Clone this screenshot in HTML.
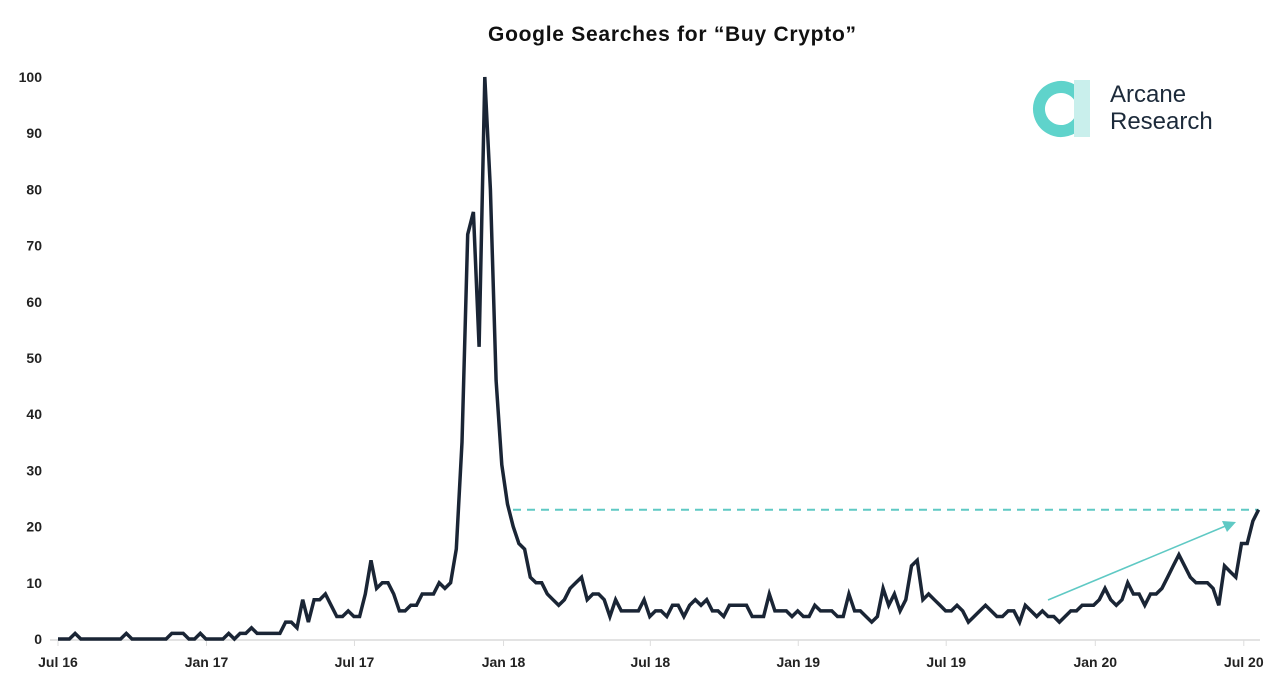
<!DOCTYPE html>
<html><head><meta charset="utf-8"><style>
body{margin:0;background:#fff;width:1280px;height:685px;overflow:hidden;font-family:"Liberation Sans",sans-serif}
</style></head><body>
<svg id="chart" width="1280" height="685" xmlns="http://www.w3.org/2000/svg">
<text x="672" y="41" text-anchor="middle" font-size="21" font-weight="bold" fill="#111" textLength="368">Google Searches for “Buy Crypto”</text>
<g>
<circle cx="1061" cy="109" r="22" fill="none" stroke="#5fd3cb" stroke-width="12" stroke-dasharray="118 20" transform="rotate(30 1061 109)"/>
<rect x="1074" y="80" width="16" height="57" fill="#c9efec"/>
<text x="1110" y="102" font-size="24" fill="#1c2a3a">Arcane</text>
<text x="1110" y="129" font-size="24" fill="#1c2a3a">Research</text>
</g>
<g id="axes"></g>
<g id="marks"></g>
</svg>
<script>
const yTicks=[0,10,20,30,40,50,60,70,80,90,100];
const xLabels=["Jul 16","Jan 17","Jul 17","Jan 18","Jul 18","Jan 19","Jul 19","Jan 20","Jul 20"];
const xLabelWeeks=[0,26.1,52.1,78.3,104.1,130.1,156.1,182.3,208.4];
const searches=[0,0,0,1,0,0,0,0,0,0,0,0,1,0,0,0,0,0,0,0,1,1,1,0,0,1,
0,0,0,0,1,0,1,1,2,1,1,1,1,1,3,3,2,7,3,7,7,8,6,4,4,5,
4,4,8,14,9,10,10,8,5,5,6,6,8,8,8,10,9,10,16,35,72,76,52,100,
80,46,31,24,20,17,16,11,10,10,8,7,6,7,9,10,11,7,8,8,7,4,7,5,5,5,5,7,4,
5,5,4,6,6,4,6,7,6,7,5,5,4,6,6,6,6,4,4,4,8,5,5,5,4,5,4,4,6,5,
5,5,4,4,8,5,5,4,3,4,9,6,8,5,7,13,14,7,8,7,6,5,5,6,5,3,4,5,6,5,
4,4,5,5,3,6,5,4,5,4,4,3,4,5,5,6,6,6,7,9,7,6,7,10,8,8,6,8,8,9,
11,13,15,13,11,10,10,10,9,6,13,12,11,17,17,21,23];
const refLevel=23;
const ns="http://www.w3.org/2000/svg";
const x=w=>58+w*5.69, y=v=>639-v*5.62;
const ax=document.getElementById('axes'), mk=document.getElementById('marks');
function mkEl(t,a,p){const e=document.createElementNS(ns,t);for(const k in a)e.setAttribute(k,a[k]);p.appendChild(e);return e;}
const base=mkEl('line',{x1:50,x2:1260,y1:640,y2:640,stroke:'#e3e3e3','stroke-width':2},ax);


yTicks.forEach(v=>{const t=mkEl('text',{x:42,y:y(v)+5,'text-anchor':'end','font-size':14,'font-weight':'bold',fill:'#222'},ax);t.textContent=v;

});
xLabels.forEach((l,i)=>{const t=mkEl('text',{x:x(xLabelWeeks[i]),y:667,'text-anchor':'middle','font-size':14,'font-weight':'bold',fill:'#222'},ax);t.textContent=l;


const k=mkEl('line',{x1:x(xLabelWeeks[i]),x2:x(xLabelWeeks[i]),y1:640,y2:646,stroke:'#ddd'},ax);

});
const dl=mkEl('line',{x1:513,x2:x(searches.length-1),y1:y(refLevel),y2:y(refLevel),stroke:'#5fc9c4','stroke-width':2,'stroke-dasharray':'8,6'},mk);


const ar=mkEl('line',{x1:1048,y1:600,x2:1228,y2:525,stroke:'#5fc9c4','stroke-width':1.5},mk);


const ah=mkEl('polygon',{points:'1236,522 1222,521 1227,532',fill:'#5fc9c4'},mk);


const pl=mkEl('polyline',{points:searches.map((v,i)=>x(i).toFixed(1)+','+y(v).toFixed(1)).join(' '),fill:'none',stroke:'#1a2535','stroke-width':3.5,'stroke-linejoin':'miter'},mk);


</script>
</body></html>
